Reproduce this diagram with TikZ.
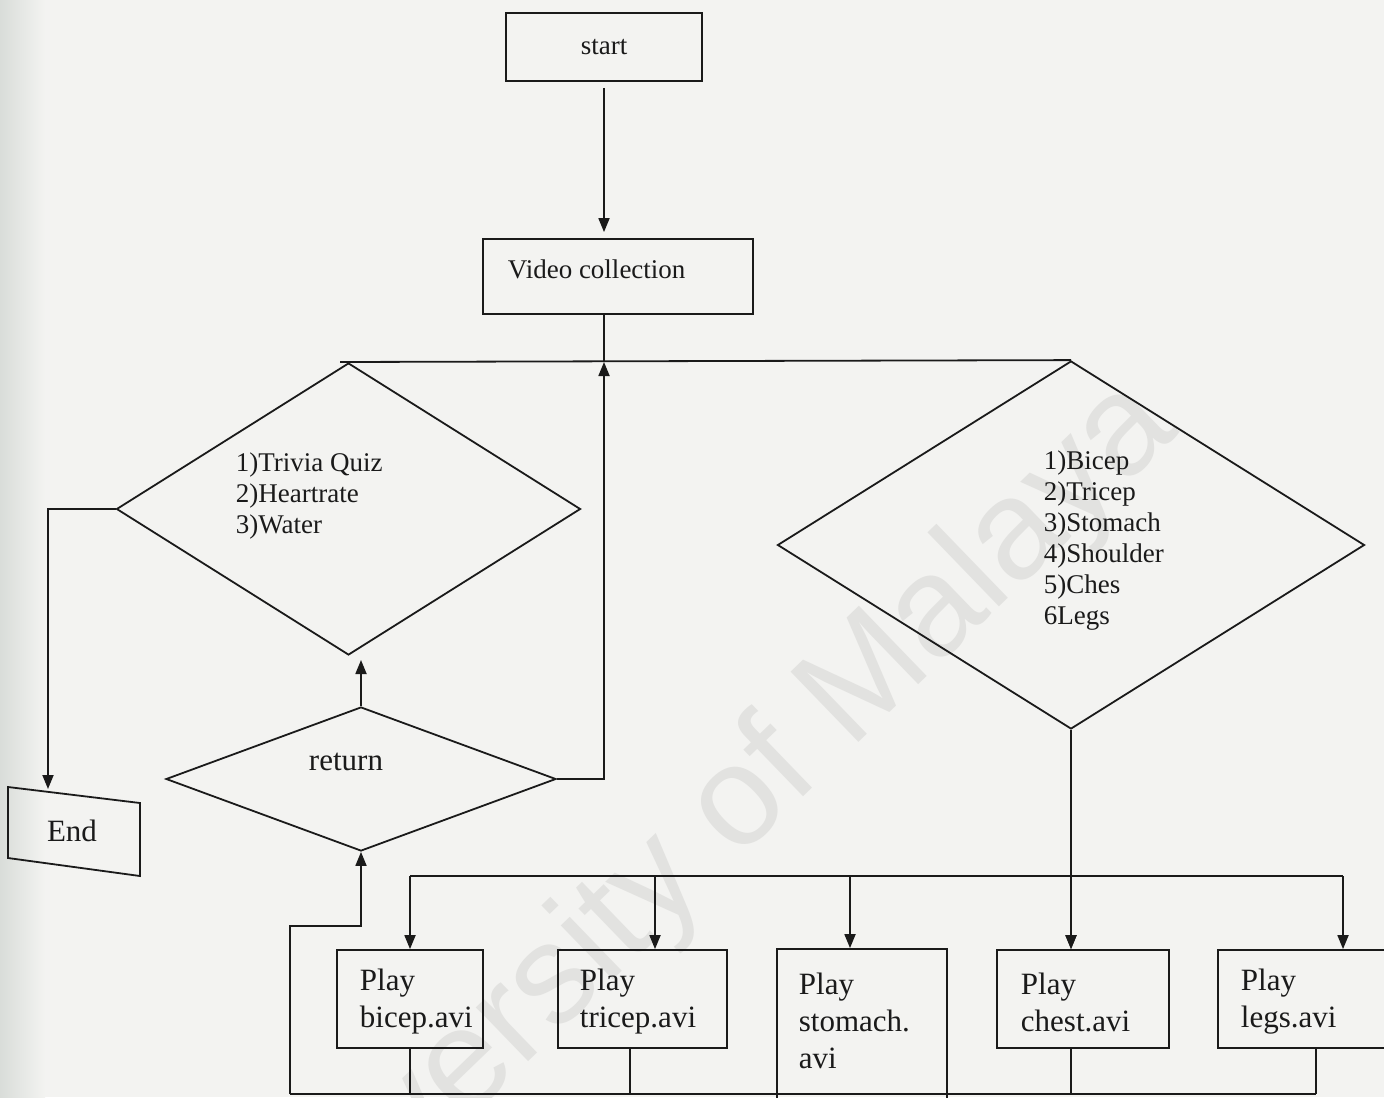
\documentclass[tikz,border=0pt]{standalone}
\usepackage{fontspec}
\setmainfont{Liberation Serif}
\newfontfamily\wmfont{Liberation Sans}
\usetikzlibrary{shapes.geometric,arrows.meta}
\definecolor{paper}{HTML}{F3F3F1}
\definecolor{shadow}{HTML}{D9DDD9}
\definecolor{ink}{HTML}{1A1A1A}
\definecolor{wmark}{HTML}{E2E2E0}
\begin{document}
\begin{tikzpicture}[x=0.5pt,y=-0.5pt,
  line width=0.9pt, color=ink,
  arr/.style={-{Triangle[length=7pt,width=5.5pt]}},
  box/.style={draw=ink, rectangle, inner sep=0pt},
  dia/.style={draw=ink, diamond, inner sep=0pt},
  small/.style={font=\fontsize{13.5}{15.5}\selectfont, text=ink, inner sep=0pt, align=left},
  big/.style={font=\fontsize{15.5}{18.5}\selectfont, text=ink, inner sep=0pt, align=left},
]
% page and scanned edge
\useasboundingbox (0,0) rectangle (1384,1097);
\fill[paper] (0,0) rectangle (1384,1097);
\shade[left color=shadow, right color=paper] (0,0) rectangle (45,1097);
\clip (0,0) rectangle (1384,1097);

% watermark
\node[rotate=44, text=wmark, inner sep=0pt, font=\wmfont\fontsize{71}{71}\selectfont] (wm) at (695,850) {University of Malaya};

% top of the flow
\node[box, minimum width=98pt, minimum height=34pt, small] (start) at (604,47) {start};
\node[box, minimum width=135pt, minimum height=37.5pt] (video) at (618,276.5) {};
\node[small, anchor=west] (videotxt) at (507,269) {Video collection};

% decisions
\node[dia, minimum width=232pt, minimum height=146pt] (menu) at (348.5,509) {};
\node[small, anchor=west] (menutxt) at (235,496) {1)Trivia Quiz\\2)Heartrate\\3)Water};
\node[dia, minimum width=195pt, minimum height=72pt] (ret) at (361,779) {};
\node[big] (rettxt) at (346,762) {return};
\node[dia, minimum width=293.5pt, minimum height=184pt] (parts) at (1071,545) {};
\node[small, anchor=west] (partstxt) at (1043,541) {1)Bicep\\2)Tricep\\3)Stomach\\4)Shoulder\\5)Ches\\6Legs};

% end terminal
\draw (8,787) -- (140,803) -- (140,876) -- (8,858) -- cycle;
\node[big] (endbox) at (72,831) {End};
\coordinate (endtop) at (48,789);

% video players
\node[box, minimum width=73pt, minimum height=49pt] (bicep) at (410,999) {};
\node[big, anchor=west] (biceptxt) at (359,1002) {Play\\bicep.avi};
\node[box, minimum width=84.5pt, minimum height=49pt] (tricep) at (642.5,999) {};
\node[big, anchor=west] (triceptxt) at (579,1002) {Play\\tricep.avi};
\node[box, minimum width=85pt, minimum height=90pt] (stomach) at (862,1039) {};
\node[big, anchor=west] (stomachtxt) at (798,1021) {Play\\stomach.\\avi};
\node[box, minimum width=86pt, minimum height=49pt] (chest) at (1083,999) {};
\node[big, anchor=west] (chesttxt) at (1020,1002) {Play\\chest.avi};
\node[box, minimum width=91pt, minimum height=49pt] (legs) at (1309,999) {};
\node[big, anchor=west] (legstxt) at (1240,1002) {Play\\legs.avi};

% connectors
\coordinate (junc) at (604,362);
\coordinate (barL) at (340,362);
\coordinate (retup) at (362,660);
\draw[arr, shorten <=3pt, shorten >=3pt] (start.south) -- (start.south |- video.north);
\draw (start.south |- video.south) -- (junc);
\draw (barL) -- (parts.north);
\draw[arr] (menu.west) -| (endtop);
\draw[arr] (ret.north) -- (ret.north |- retup);
\draw[arr] (ret.east) -| (junc);
\draw[arr] (parts.south) -- (parts.south |- chest.north);

\coordinate (d1) at (410,876);
\coordinate (d2) at (655,876);
\coordinate (d3) at (850,876);
\coordinate (d4) at (1071,876);
\coordinate (d5) at (1343,876);
\draw (d1) -- (d5);
\draw[arr] (d1) -- (d1 |- bicep.north);
\draw[arr] (d2) -- (d2 |- tricep.north);
\draw[arr] (d3) -- (d3 |- stomach.north);
\draw[arr] (d4) -- (d4 |- chest.north);
\draw[arr] (d5) -- (d5 |- legs.north);

\coordinate (loopA) at (290,1094);
\coordinate (loopB) at (290,926);
\coordinate (u2) at (630,1094);
\coordinate (u5) at (1316,1094);
\draw (bicep.south) -- (bicep.south |- loopA);
\draw (u2 |- tricep.south) -- (u2);
\draw (d4 |- chest.south) -- (d4 |- loopA);
\draw (u5 |- legs.south) -- (u5);
\draw (loopA) -- (u5);
\draw[arr] (loopA) -- (loopB) -| (ret.south);
\end{tikzpicture}
\end{document}
